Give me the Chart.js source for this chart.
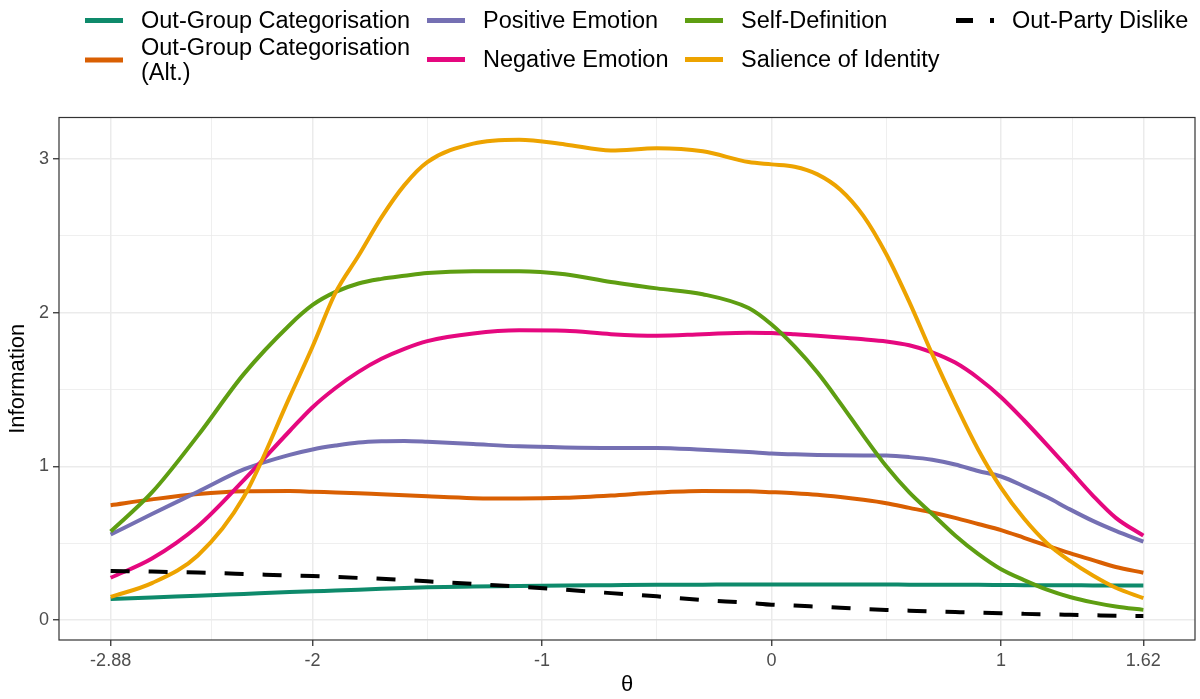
<!DOCTYPE html>
<html>
<head>
<meta charset="utf-8">
<script src="https://cdn.jsdelivr.net/npm/chart.js@4.4.1/dist/chart.umd.min.js"></script>
<style>
  body { margin: 0; background: #fff; font-family: "Liberation Sans", Arial, sans-serif; }
  #wrap { position: relative; width: 1200px; height: 699px; overflow: hidden; }
  #chart { position: absolute; left: 0; top: 0; }
  .leg { position: absolute; display: flex; align-items: center; transform: translateY(-50%);
         font-size: 23.5px; line-height: 25px; color: #000; white-space: nowrap; }
  .leg svg { flex: none; margin-right: 18px; }
</style>
</head>
<body>
<div id="wrap">
  <canvas id="chart" width="1200" height="699"></canvas>
  <div id="legend"></div>
</div>
<script>
// ===== DATA =====
const theta = [-2.88, -2.7, -2.5, -2.3, -2.1, -2.0, -1.9, -1.8, -1.7, -1.6, -1.5, -1.3, -1.1, -0.9, -0.7,
               -0.5, -0.3, -0.1, 0, 0.1, 0.2, 0.3, 0.4, 0.5, 0.6, 0.7, 0.8, 0.9, 1.0, 1.1, 1.2, 1.3, 1.4, 1.5, 1.62];

const outGroup = [0.136, 0.147, 0.158, 0.170, 0.182, 0.187, 0.192, 0.197, 0.203, 0.208, 0.213, 0.218, 0.222, 0.225, 0.227,
                  0.229, 0.230, 0.231, 0.231, 0.231, 0.231, 0.231, 0.231, 0.231, 0.230, 0.230, 0.229, 0.229, 0.228, 0.227, 0.226, 0.226, 0.225, 0.225, 0.224];
const outGroupAlt = [0.747, 0.785, 0.820, 0.838, 0.840, 0.835, 0.830, 0.825, 0.818, 0.812, 0.805, 0.793, 0.790, 0.795, 0.810,
                     0.830, 0.840, 0.838, 0.832, 0.825, 0.815, 0.800, 0.782, 0.760, 0.730, 0.700, 0.665, 0.625, 0.585, 0.535, 0.484, 0.435, 0.390, 0.345, 0.308];
const positiveEmotion = [0.556, 0.690, 0.835, 0.980, 1.075, 1.110, 1.135, 1.155, 1.163, 1.165, 1.160, 1.145, 1.130, 1.123, 1.120,
                         1.120, 1.108, 1.093, 1.084, 1.078, 1.074, 1.072, 1.071, 1.070, 1.060, 1.043, 1.012, 0.970, 0.934, 0.870, 0.800, 0.720, 0.645, 0.580, 0.510];
const negativeEmotion = [0.275, 0.400, 0.610, 0.910, 1.230, 1.385, 1.510, 1.615, 1.700, 1.765, 1.815, 1.865, 1.885, 1.882, 1.860,
                         1.850, 1.860, 1.870, 1.868, 1.860, 1.850, 1.838, 1.827, 1.813, 1.788, 1.742, 1.675, 1.575, 1.450, 1.300, 1.140, 0.975, 0.810, 0.665, 0.549];
const selfDefinition = [0.576, 0.830, 1.200, 1.600, 1.920, 2.050, 2.135, 2.190, 2.220, 2.240, 2.258, 2.270, 2.270, 2.250, 2.200,
                        2.158, 2.120, 2.030, 1.923, 1.780, 1.610, 1.410, 1.200, 1.000, 0.830, 0.690, 0.550, 0.430, 0.330, 0.260, 0.198, 0.150, 0.115, 0.088, 0.066];
const salience = [0.150, 0.240, 0.420, 0.800, 1.450, 1.780, 2.130, 2.370, 2.620, 2.830, 2.980, 3.100, 3.125, 3.095, 3.055,
                  3.070, 3.050, 2.980, 2.965, 2.950, 2.900, 2.800, 2.630, 2.380, 2.070, 1.730, 1.410, 1.110, 0.860, 0.660, 0.500, 0.385, 0.290, 0.210, 0.143];
const outPartyDislike = [0.319, 0.315, 0.309, 0.300, 0.290, 0.286, 0.280, 0.274, 0.268, 0.260, 0.252, 0.235, 0.217, 0.197, 0.175,
                         0.154, 0.130, 0.112, 0.100, 0.094, 0.087, 0.080, 0.072, 0.066, 0.061, 0.056, 0.052, 0.048, 0.044, 0.040, 0.037, 0.034, 0.031, 0.028, 0.026];

const seriesNames = ['Out-Group Categorisation', 'Out-Group Categorisation\n(Alt.)', 'Positive Emotion',
                     'Negative Emotion', 'Self-Definition', 'Salience of Identity', 'Out-Party Dislike'];
const seriesValues = [outGroup, outGroupAlt, positiveEmotion, negativeEmotion, selfDefinition, salience, outPartyDislike];

const xTickValues = [-2.88, -2, -1, 0, 1, 1.62];
const xTickLabels = ['-2.88', '-2', '-1', '0', '1', '1.62'];
const yTickValues = [0, 1, 2, 3];
const yTickLabels = ['0', '1', '2', '3'];

// ===== STYLE =====
const colors = ['#0e8a6b', '#d95f02', '#7570b3', '#e5087f', '#5e9e12', '#eda300', '#000000'];
const FONT = '"Liberation Sans", Arial, sans-serif';

// minor gridlines sit half way between the labelled breaks (ggplot style)
function withMinor(major) {
    const out = [];
    major.forEach((v, i) => {
        out.push({ value: v, major: true });
        if (i < major.length - 1) out.push({ value: (v + major[i + 1]) / 2, major: false });
    });
    return out;
}
const xAll = withMinor(xTickValues);
const yAll = withMinor(yTickValues);

function isMajor(list, v) {
    return list.some(t => Math.abs(t - v) < 1e-6);
}
function labelFor(list, labels, v) {
    const i = list.findIndex(t => Math.abs(t - v) < 1e-6);
    return i >= 0 ? labels[i] : '';
}

const datasets = seriesValues.map((vals, i) => ({
    label: seriesNames[i],
    data: theta.map((t, j) => ({ x: t, y: vals[j] })),
    borderColor: colors[i],
    borderWidth: 4,
    borderDash: i === 6 ? [19, 19] : [],
    pointRadius: 0,
    fill: false,
    cubicInterpolationMode: 'monotone',
    order: 7 - i
}));

const panelBorder = {
    id: 'panelBorder',
    afterDraw(chart) {
        const { ctx, chartArea: a } = chart;
        ctx.save();
        ctx.strokeStyle = '#333333';
        ctx.lineWidth = 1.2;
        ctx.strokeRect(a.left, a.top, a.right - a.left, a.bottom - a.top);
        ctx.restore();
    }
};

new Chart(document.getElementById('chart').getContext('2d'), {
    type: 'line',
    data: { datasets: datasets },
    options: {
        responsive: false,
        animation: false,
        devicePixelRatio: 1,
        layout: { padding: { top: 117.5, right: 5, left: 0, bottom: 0 } },
        plugins: { legend: { display: false }, tooltip: { enabled: false } },
        scales: {
            x: {
                type: 'linear',
                min: -3.105,
                max: 1.845,
                afterBuildTicks: s => { s.ticks = xAll.map(t => ({ value: t.value })); },
                afterFit: s => { s.height = 59; },
                border: { display: false },
                grid: {
                    color: '#ebebeb',
                    lineWidth: c => isMajor(xTickValues, c.tick.value) ? 1.5 : 0.8,
                    tickLength: 6,
                    tickColor: c => isMajor(xTickValues, c.tick.value) ? '#333333' : 'rgba(0,0,0,0)',
                    tickWidth: 1.3
                },
                ticks: {
                    autoSkip: false,
                    maxRotation: 0,
                    padding: 4,
                    color: '#4d4d4d',
                    font: { size: 18, family: FONT },
                    callback: v => labelFor(xTickValues, xTickLabels, v)
                },
                title: {
                    display: true,
                    text: 'θ',
                    color: '#000',
                    font: { size: 22, family: FONT },
                    padding: { top: 0, bottom: 1 }
                }
            },
            y: {
                type: 'linear',
                min: -0.13,
                max: 3.27,
                afterBuildTicks: s => { s.ticks = yAll.map(t => ({ value: t.value })); },
                afterFit: s => { s.width = 59; },
                border: { display: false },
                grid: {
                    color: '#ebebeb',
                    lineWidth: c => isMajor(yTickValues, c.tick.value) ? 1.5 : 0.8,
                    tickLength: 6,
                    tickColor: c => isMajor(yTickValues, c.tick.value) ? '#333333' : 'rgba(0,0,0,0)',
                    tickWidth: 1.3
                },
                ticks: {
                    autoSkip: false,
                    padding: 4,
                    color: '#4d4d4d',
                    font: { size: 18, family: FONT },
                    callback: v => labelFor(yTickValues, yTickLabels, v)
                },
                title: {
                    display: true,
                    text: 'Information',
                    color: '#000',
                    font: { size: 22, family: FONT },
                    padding: { top: 5, bottom: 0 }
                }
            }
        }
    },
    plugins: [panelBorder]
});

// ===== LEGEND (html, four columns like the ggplot guide) =====
const legendSpots = [
    [85, 20], [85, 60], [427, 20], [427, 59], [685, 20], [685, 59], [956, 20]
];
const legendBox = document.getElementById('legend');
seriesNames.forEach((name, i) => {
    const item = document.createElement('div');
    item.className = 'leg';
    item.style.left = legendSpots[i][0] + 'px';
    item.style.top = legendSpots[i][1] + 'px';
    const dash = i === 6 ? ' stroke-dasharray="17 17"' : '';
    item.innerHTML = '<svg width="38" height="8"><line x1="0" y1="4" x2="38" y2="4" stroke="' + colors[i] +
        '" stroke-width="5"' + dash + '/></svg><span>' + name.replace('\n', '<br>') + '</span>';
    legendBox.appendChild(item);
});
</script>
</body>
</html>
